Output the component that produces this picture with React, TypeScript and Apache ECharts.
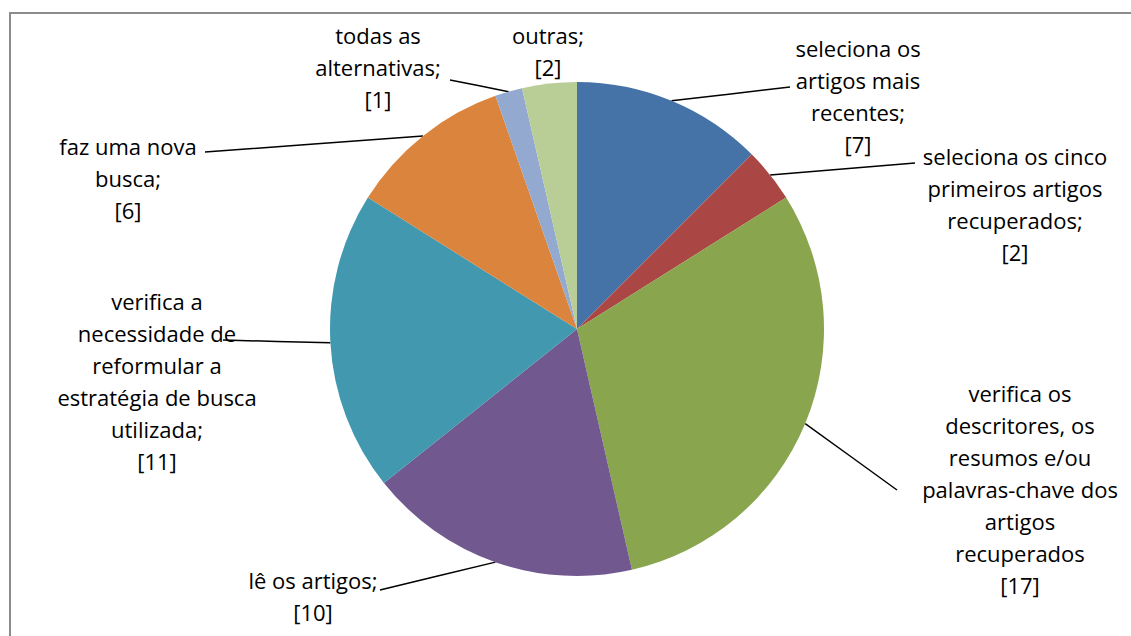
import React, { useEffect, useRef } from "react";
import * as echarts from "echarts";

const categories = [
  "seleciona os\nartigos mais\nrecentes;",
  "seleciona os cinco\nprimeiros artigos\nrecuperados;",
  "verifica os\ndescritores, os\nresumos e/ou\npalavras-chave dos\nartigos\nrecuperados",
  "lê os artigos;",
  "verifica a\nnecessidade de\nreformular a\nestratégia de busca\nutilizada;",
  "faz uma nova\nbusca;",
  "todas as\nalternativas;",
  "outras;",
];
const values = [7, 2, 17, 10, 11, 6, 1, 2];
const colors = ["#4572A7", "#AA4643", "#89A54E", "#71588F", "#4198AF", "#DB843D", "#93A9CF", "#B9CD96"];
// label block centres (layout only)
const labelPos: [number, number][] = [
  [858, 96],
  [1015, 204],
  [1020, 489],
  [313, 596],
  [157, 381],
  [128, 178],
  [378, 67],
  [548, 51],
];
// leader line end points (layout only)
const lineEnds: ([number, number] | null)[] = [
  [790, 87],
  [915, 163],
  [897, 490],
  [380, 590],
  [223, 340],
  [205, 152],
  [450, 80],
  null,
];

const CX = 577;
const CY = 329;
const R = 247;

export default function App() {
  const ref = useRef<HTMLDivElement>(null);
  useEffect(() => {
    const chart = echarts.init(ref.current!, null, { renderer: "svg" });
    const total = values.reduce((a, b) => a + b, 0);
    chart.setOption({
      animation: false,
      backgroundColor: "#fff",
      graphic: [
        {
          type: "rect",
          shape: { x: 10, y: 13, width: 1200, height: 700 },
          style: { fill: "none", stroke: "#8c8c8c", lineWidth: 2 },
          silent: true,
        },
      ],
      series: [
        {
          type: "pie",
          center: [CX, CY],
          radius: R,
          startAngle: 90,
          clockwise: true,
          avoidLabelOverlap: false,
          label: {
            show: true,
            formatter: "{b}\n[{c}]",
            fontFamily: "Open Sans",
            fontSize: 22,
            lineHeight: 32,
            color: "#000",
            align: "center",
          },
          labelLine: {
            show: true,
            length: 20,
            length2: 20,
            lineStyle: { color: "#000", width: 1.5 },
          },
          labelLayout: (params: any) => {
            const i = params.dataIndex;
            const p = labelPos[i];
            const out: any = { x: p[0], y: p[1], align: "center", verticalAlign: "middle" };
            const end = lineEnds[i];
            if (end) {
              let start: number[];
              if (params.labelLinePoints && params.labelLinePoints[0]) {
                start = params.labelLinePoints[0];
              } else {
                let cum = 0;
                for (let k = 0; k < i; k++) cum += values[k];
                const a = ((cum + values[i] / 2) / total) * Math.PI * 2;
                start = [CX + R * Math.sin(a), CY - R * Math.cos(a)];
              }
              out.labelLinePoints = [
                start,
                [(start[0] + end[0]) / 2, (start[1] + end[1]) / 2],
                end,
              ];
            }
            return out;
          },
          data: categories.map((c, i) => ({
            name: c,
            value: values[i],
            itemStyle: { color: colors[i] },
            labelLine: i === 7 ? { show: false } : undefined,
          })),
        },
      ],
    });
    return () => chart.dispose();
  }, []);
  return (
    <div
      ref={ref}
      style={{ position: "absolute", left: 0, top: 0, width: 1131, height: 636 }}
    />
  );
}
